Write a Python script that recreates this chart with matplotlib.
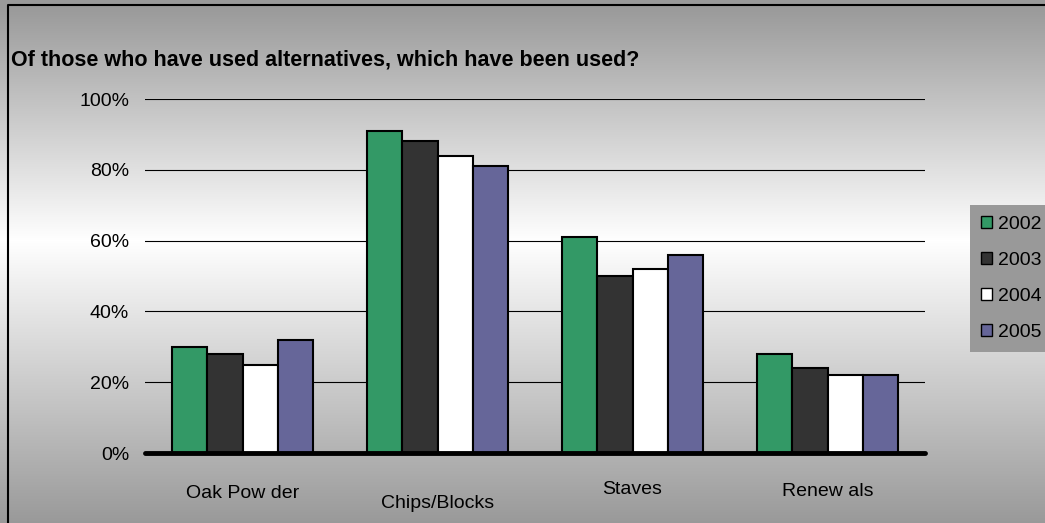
import matplotlib
matplotlib.use("Agg")
import matplotlib.pyplot as plt
import numpy as np
from matplotlib.patches import Patch

categories = ["Oak Pow der", "Chips/Blocks", "Staves", "Renew als"]
years = ["2002", "2003", "2004", "2005"]
values = {
    "2002": [30, 91, 61, 28],
    "2003": [28, 88, 50, 24],
    "2004": [25, 84, 52, 22],
    "2005": [32, 81, 56, 22],
}
yticks = [0, 20, 40, 60, 80, 100]
ytick_labels = ["0%", "20%", "40%", "60%", "80%", "100%"]
title = "Of those who have used alternatives, which have been used?"

colors = ["#339966", "#333333", "#ffffff", "#666699"]
label_dy = [40, 51, 37, 38]  # px below axis line

W, H = 1045, 523
fig = plt.figure(figsize=(W / 100, H / 100), dpi=100)
plt.rcParams['font.family'] = ['Liberation Sans', 'DejaVu Sans']

# background gradient
bg = fig.add_axes([0, 0, 1, 1])
ys = np.arange(H)
g = np.where(ys < 240, 0.6 + 0.4 * (ys - 5) / 235, 1 - 0.4 * (ys - 240) / 283)
g = np.clip(g, 0.6, 1.0)
img = np.repeat(g[:, None], 2, axis=1)
bg.imshow(np.dstack([img, img, img]), aspect='auto', extent=[0, W, H, 0])
bg.plot([8, 8, W + 5], [H + 5, 5, 5], color='black', lw=1.5)
bg.set_xlim(0, W)
bg.set_ylim(H, 0)
bg.axis('off')

# main axes
left, right = 145, 925
top, bottom = 99, 453
ax = fig.add_axes([left / W, (H - bottom) / H, (right - left) / W, (bottom - top) / H])
ax.patch.set_alpha(0)
n = len(years)
bw = 1 / 5.5
x = np.arange(len(categories))
for i, yr in enumerate(years):
    ax.bar(x + (i - (n - 1) / 2) * bw, values[yr], width=bw, color=colors[i],
           edgecolor='black', linewidth=1.5, zorder=3)
ax.set_xlim(-0.5, len(categories) - 0.5)
ax.set_ylim(0, 100)
ax.set_yticks(yticks)
ax.set_yticklabels(ytick_labels, fontsize=14)
ax.tick_params(axis='y', length=0, pad=11.5)
ax.set_xticks([])
for s in ax.spines.values():
    s.set_visible(False)
for t in yticks[1:]:
    ax.axhline(t, color='black', lw=0.8, zorder=1)
ax.plot([-0.5, len(categories) - 0.5], [0, 0], color='black', lw=3.5,
        solid_capstyle='round', zorder=4, clip_on=False)

for i, c in enumerate(categories):
    ax.annotate(c, xy=(i, 0), xycoords='data', xytext=(0, -label_dy[i] * 0.72),
                textcoords='offset points', ha='center', va='center', fontsize=14)

fig.text(11 / W, 1 - 60 / H, title, fontsize=15.5, fontweight='bold', va='center', ha='left')

handles = [Patch(facecolor=colors[i], edgecolor='black', label=yr) for i, yr in enumerate(years)]
leg = fig.legend(handles=handles, loc='upper left', bbox_to_anchor=(970 / W, 1 - 205 / H),
                 frameon=True, fontsize=14, handlelength=0.6, handleheight=0.6,
                 handletextpad=0.3, labelspacing=0.98, borderpad=0.55, borderaxespad=0)
leg.get_frame().set_facecolor('#999999')
leg.get_frame().set_edgecolor('none')
leg.get_frame().set_alpha(1)
leg.get_frame().set_boxstyle('square', pad=0)

fig.savefig("out.png", dpi=100)
